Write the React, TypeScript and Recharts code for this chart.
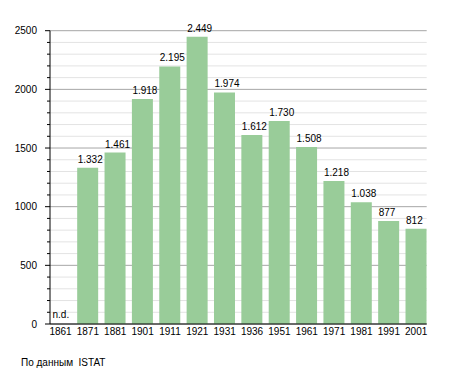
import React from "react";
import { BarChart, Bar, XAxis, YAxis, CartesianGrid, LabelList } from "recharts";

const years = ["1861", "1871", "1881", "1901", "1911", "1921", "1931", "1936", "1951", "1961", "1971", "1981", "1991", "2001"];
const population: (number | null)[] = [null, 1332, 1461, 1918, 2195, 2449, 1974, 1612, 1730, 1508, 1218, 1038, 877, 812];
const yTicks = Array.from({ length: 26 }, (_, i) => i * 100);
const majorTicks = [0, 500, 1000, 1500, 2000, 2500];
const footer = "По данным  ISTAT";
const missingLabel = "n.d.";

const data = years.map((year, i) => ({ year, value: population[i] }));

const FONT = "'Liberation Sans', Arial, sans-serif";

const fmt = (v: number) => v.toString().replace(/\B(?=(\d{3})+(?!\d))/g, ".");

const YTick = (props: any) => {
  const { y, payload } = props;
  const v = payload.value as number;
  const major = majorTicks.includes(v);
  const axisX = 50;
  return (
    <g>
      <line x1={axisX - (major ? 5 : 3)} x2={axisX} y1={y} y2={y} stroke="#000" strokeWidth={1} />
      {major && (
        <text x={37} y={y} dy="0.35em" textAnchor="end" fontFamily={FONT} fontSize={10} fill="#000">
          {v}
        </text>
      )}
    </g>
  );
};

const XTick = (props: any) => {
  const { x, payload, index } = props;
  const missing = population[index] === null;
  return (
    <g>
      <text x={x} y={335} textAnchor="middle" fontFamily={FONT} fontSize={10} fill="#000">
        {payload.value}
      </text>
      {missing && (
        <text x={x - 8} y={318} textAnchor="start" fontFamily={FONT} fontSize={10} fill="#000">
          {missingLabel}
        </text>
      )}
    </g>
  );
};

const ValueLabel = (props: any) => {
  const { x, y, value } = props;
  if (value === null || value === undefined) return null;
  return (
    <text x={x + 0.5} y={y - 5} textAnchor="start" fontFamily={FONT} fontSize={10} fill="#000">
      {fmt(value)}
    </text>
  );
};

const GridLine = (props: any) => {
  const { x1, x2, y1, y2, index } = props;
  const major = index % 5 === 0;
  return (
    <line
      key={`g-${index}`}
      x1={x1}
      x2={x2}
      y1={y1}
      y2={y2}
      stroke={major ? "#a6a6a6" : "#e3e3e3"}
      strokeWidth={1}
    />
  );
};

export default function App() {
  return (
    <div style={{ position: "absolute", left: 0, top: 0, width: 455, height: 373, background: "#fff" }}>
      <BarChart
        width={455}
        height={373}
        data={data}
        margin={{ top: 30.7, right: 28.3, left: 0, bottom: 0 }}
      >
        <CartesianGrid vertical={false} horizontal={GridLine as any} />
        <XAxis
          dataKey="year"
          height={49}
          tickLine={false}
          axisLine={{ stroke: "#000", strokeWidth: 1 }}
          tick={<XTick />}
          interval={0}
          padding={{ left: -3.18, right: -3.18 }}
        />
        <YAxis
          width={50}
          domain={[0, 2500]}
          ticks={yTicks}
          interval={0}
          tickLine={false}
          axisLine={{ stroke: "#000", strokeWidth: 1 }}
          tick={<YTick />}
        />
        <Bar dataKey="value" fill="#99cc99" barSize={21} isAnimationActive={false}>
          <LabelList dataKey="value" content={<ValueLabel />} />
        </Bar>
      </BarChart>
      <div
        style={{
          position: "absolute",
          left: 21,
          top: 357,
          fontFamily: FONT,
          fontSize: 10,
          whiteSpace: "pre",
          lineHeight: "12px",
          color: "#000",
        }}
      >
        {footer}
      </div>
    </div>
  );
}
